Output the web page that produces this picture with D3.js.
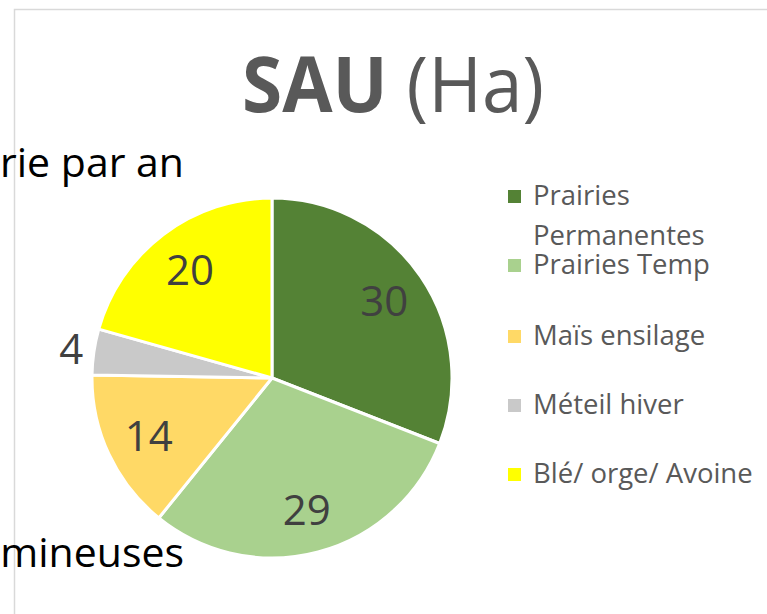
<!DOCTYPE html>
<html><head><meta charset="utf-8">
<script src="https://cdn.jsdelivr.net/npm/d3@7"></script>
<style>body{margin:0;background:#fff}svg{display:block}</style>
</head><body>
<script>
const categories = ["Prairies Permanentes", "Prairies Temp", "Maïs ensilage", "Méteil hiver", "Blé/ orge/ Avoine"];
const values = [30, 29, 14, 4, 20];
const colors = ["#548235", "#A9D18E", "#FFD966", "#C9C9C9", "#FFFF00"];
const legendLines = [["Prairies", "Permanentes"], ["Prairies Temp"], ["Maïs ensilage"], ["Méteil hiver"], ["Blé/ orge/ Avoine"]];

const W = 767, H = 614;
const svg = d3.select("body").append("svg").attr("width", W).attr("height", H);
const font = "'Open Sans', sans-serif";

// chart frame
svg.append("rect").attr("x", 14.5).attr("y", 9.5).attr("width", 800).attr("height", 700)
  .attr("fill", "none").attr("stroke", "#d9d9d9").attr("stroke-width", 1.5);

// overflow texts from neighbouring chart
svg.append("text").attr("x", 184).attr("y", 177).attr("text-anchor", "end")
  .attr("font-family", font).attr("font-size", 41).attr("fill", "#000").text("rie par an");
svg.append("text").attr("x", 184).attr("y", 567).attr("text-anchor", "end")
  .attr("font-family", font).attr("font-size", 41).attr("fill", "#000").text("mineuses");

// title
const title = svg.append("text").attr("x", 0).attr("y", 112).attr("font-family", font).attr("font-size", 77).attr("fill", "#595959");
title.append("tspan").attr("font-weight", "bold").text("SAU");
title.append("tspan").text(" (Ha)");
const tw = title.node().getComputedTextLength();
const sx = Math.min(1, 302 / tw);
title.attr("transform", `translate(242,0) scale(${sx},1)`);

// pie
const cx = 272, cy = 378, R = 180;
const pie = d3.pie().sort(null).value(d => d);
const arcs = pie(values);
const arc = d3.arc().innerRadius(0).outerRadius(R);
const g = svg.append("g").attr("transform", `translate(${cx},${cy})`);
g.selectAll("path").data(arcs).enter().append("path")
  .attr("d", arc).attr("fill", (d, i) => colors[i])
  .attr("stroke", "#fff").attr("stroke-width", 3).attr("stroke-linejoin", "round");

const inArc = d3.arc().innerRadius(136).outerRadius(136);
const outArc = d3.arc().innerRadius(203).outerRadius(203);
g.selectAll("text.lbl").data(arcs).enter().append("text").attr("class", "lbl")
  .attr("transform", d => {
    const c = (d.endAngle - d.startAngle) < 0.4 ? outArc.centroid(d) : inArc.centroid(d);
    return `translate(${c[0]},${c[1]})`;
  })
  .attr("text-anchor", "middle").attr("dy", "0.36em")
  .attr("font-family", font).attr("font-size", 42).attr("fill", "#404040")
  .text(d => d.data);

// legend
const baselines = [205, 274, 345, 414, 483];
const lg = svg.append("g");
categories.forEach((c, i) => {
  lg.append("rect").attr("x", 508).attr("y", baselines[i] - 15).attr("width", 13).attr("height", 13).attr("fill", colors[i]);
  legendLines[i].forEach((ln, j) => {
    lg.append("text").attr("x", 533).attr("y", baselines[i] + j * 40)
      .attr("font-family", font).attr("font-size", 27.5).attr("fill", "#595959").text(ln);
  });
});
</script>
</body></html>
